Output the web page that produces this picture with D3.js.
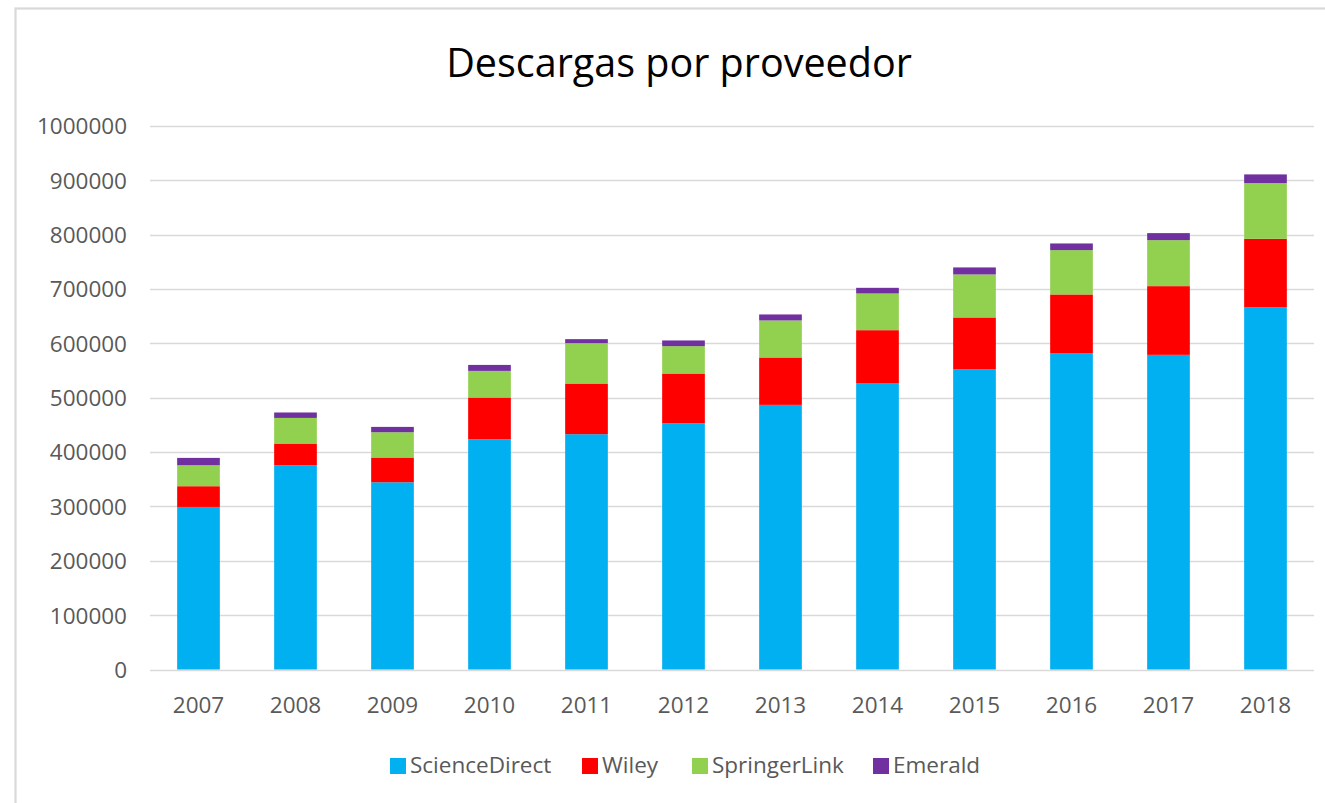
<!DOCTYPE html>
<html>
<head>
<meta charset="utf-8">
<script src="https://cdn.jsdelivr.net/npm/d3@7"></script>
<style>
  html, body { margin: 0; padding: 0; background: #fff; }
  svg { display: block; }
  text { font-family: "Open Sans", "Liberation Sans", sans-serif; }
</style>
</head>
<body>
<svg id="chart" width="1325" height="803"></svg>
<script>
const years = ["2007","2008","2009","2010","2011","2012","2013","2014","2015","2016","2017","2018"];
const seriesNames = ["ScienceDirect", "Wiley", "SpringerLink", "Emerald"];
const scienceDirect = [299000, 375700, 344400, 423600, 432800, 453000, 486700, 526000, 551800, 581200, 578700, 665900];
const wiley         = [ 38100,  39900,  45500,  76700,  93200,  91400,  87200,  98100,  95700, 108600, 126400, 126200];
const springerLink  = [ 38600,  47100,  46500,  48900,  74200,  50300,  68100,  67500,  79100,  81500,  84600, 102500];
const emerald       = [ 13500,  10000,   9800,  11000,   7400,  10500,  11000,  10400,  12900,  12300,  12900,  16000];
const yTicks = [0, 100000, 200000, 300000, 400000, 500000, 600000, 700000, 800000, 900000, 1000000];
const colors = ["#00B0F0", "#FF0000", "#92D050", "#7030A0"];
const title = "Descargas por proveedor";

const svg = d3.select("#chart");

// chart frame (extends beyond right and bottom edges)
svg.append("rect")
  .attr("x", 15.5).attr("y", 8.5)
  .attr("width", 1340).attr("height", 820)
  .attr("fill", "#fff").attr("stroke", "#D9D9D9").attr("stroke-width", 2.2);

const table = years.map((y, i) => ({
  year: y,
  ScienceDirect: scienceDirect[i],
  Wiley: wiley[i],
  SpringerLink: springerLink[i],
  Emerald: emerald[i]
}));

const x = d3.scaleBand().domain(years).range([150, 1314]).paddingInner(0.56).paddingOuter(0.28);
const yScale = d3.scaleLinear().domain([0, 1000000]).range([669.5, 125.8]);

// gridlines
svg.append("g")
  .selectAll("line")
  .data(yTicks)
  .join("line")
  .attr("x1", 150).attr("x2", 1314)
  .attr("y1", d => Math.round(yScale(d)) + 0.5)
  .attr("y2", d => Math.round(yScale(d)) + 0.5)
  .attr("stroke", "#D9D9D9").attr("stroke-width", 1.6);

// y axis labels
const yAxis = d3.axisLeft(yScale).tickValues(yTicks).tickSize(0).tickPadding(0).tickFormat(d3.format("d"));
const yg = svg.append("g").attr("transform", "translate(127,0)").call(yAxis);
yg.select(".domain").remove();
yg.selectAll("text")
  .attr("fill", "#595959")
  .style("font-size", "22.5px")
  .attr("dy", "0.35em");

// x axis labels
const xAxis = d3.axisBottom(x).tickSize(0).tickPadding(0);
const xg = svg.append("g").attr("transform", "translate(0,713)").call(xAxis);
xg.select(".domain").remove();
xg.selectAll("text")
  .attr("fill", "#595959")
  .style("font-size", "22.5px")
  .attr("y", 0)
  .attr("dy", "0");

// stacked bars
const stack = d3.stack().keys(seriesNames);
const stacked = stack(table);

svg.append("g")
  .selectAll("g")
  .data(stacked)
  .join("g")
  .attr("fill", (d, i) => colors[i])
  .selectAll("rect")
  .data(d => d)
  .join("rect")
  .attr("x", d => x(d.data.year))
  .attr("width", x.bandwidth())
  .attr("y", d => yScale(d[1]))
  .attr("height", d => yScale(d[0]) - yScale(d[1]));

// title
svg.append("text")
  .attr("x", 679).attr("y", 77)
  .attr("text-anchor", "middle")
  .attr("fill", "#000")
  .style("font-size", "39.5px")
  .text(title);

// legend
const legendX = [390, 582, 692, 873];
const legend = svg.append("g");
seriesNames.forEach((name, i) => {
  legend.append("rect")
    .attr("x", legendX[i]).attr("y", 758)
    .attr("width", 16).attr("height", 16)
    .attr("fill", colors[i]);
  legend.append("text")
    .attr("x", legendX[i] + 20).attr("y", 773)
    .attr("fill", "#595959")
    .style("font-size", "22.5px")
    .text(name);
});
</script>
</body>
</html>
